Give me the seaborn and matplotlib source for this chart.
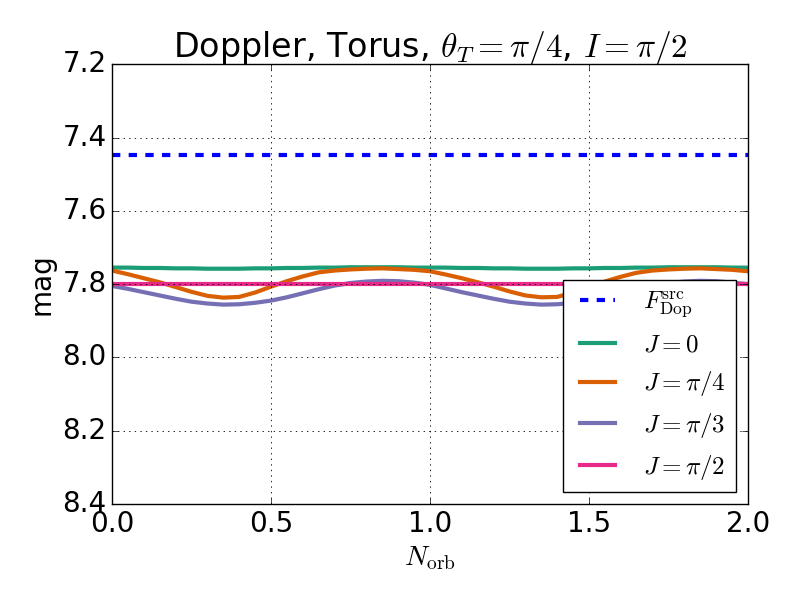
import numpy as np
import pandas as pd
import matplotlib
matplotlib.use("Agg")
import matplotlib.pyplot as plt
import seaborn as sns

# ==========================================
# DATA
# ==========================================
n_orb = [0.00, 0.05, 0.10, 0.15, 0.20, 0.25, 0.30, 0.35, 0.40, 0.45,
         0.50, 0.55, 0.60, 0.65, 0.70, 0.75, 0.80, 0.85, 0.90, 0.95,
         1.00, 1.05, 1.10, 1.15, 1.20, 1.25, 1.30, 1.35, 1.40, 1.45,
         1.50, 1.55, 1.60, 1.65, 1.70, 1.75, 1.80, 1.85, 1.90, 1.95,
         2.00]

mag_src = [7.447] * len(n_orb)

mag_j0 = [7.755, 7.755, 7.756, 7.756, 7.757, 7.757, 7.758, 7.758, 7.758, 7.757,
          7.757, 7.756, 7.756, 7.755, 7.755, 7.754, 7.754, 7.754, 7.754, 7.755,
          7.755, 7.755, 7.756, 7.756, 7.757, 7.757, 7.758, 7.758, 7.758, 7.757,
          7.757, 7.756, 7.756, 7.755, 7.755, 7.754, 7.754, 7.754, 7.754, 7.755,
          7.755]

mag_j_pi4 = [7.763, 7.773, 7.784, 7.795, 7.808, 7.821, 7.832, 7.837, 7.835, 7.823,
             7.807, 7.792, 7.779, 7.768, 7.763, 7.760, 7.758, 7.757, 7.759, 7.761,
             7.765, 7.774, 7.784, 7.795, 7.807, 7.820, 7.831, 7.836, 7.835, 7.823,
             7.808, 7.793, 7.780, 7.769, 7.763, 7.760, 7.758, 7.757, 7.759, 7.761,
             7.765]

mag_j_pi3 = [7.805, 7.813, 7.822, 7.831, 7.840, 7.848, 7.853, 7.856, 7.855, 7.851,
             7.845, 7.836, 7.825, 7.814, 7.804, 7.797, 7.793, 7.791, 7.792, 7.796,
             7.802, 7.812, 7.822, 7.831, 7.840, 7.848, 7.853, 7.856, 7.855, 7.851,
             7.845, 7.836, 7.825, 7.814, 7.804, 7.797, 7.793, 7.791, 7.792, 7.796,
             7.800]

mag_j_pi2 = [7.799] * len(n_orb)

series = [
    (mag_src, r"$F_{\rm Dop}^{\rm src}$", "blue", "--"),
    (mag_j0, r"$J=0$", "#1b9e77", "-"),
    (mag_j_pi4, r"$J=\pi/4$", "#d95f02", "-"),
    (mag_j_pi3, r"$J=\pi/3$", "#7570b3", "-"),
    (mag_j_pi2, r"$J=\pi/2$", "#e7298a", "-"),
]

# ==========================================
# STYLE
# ==========================================
plt.style.use("classic")
plt.rcParams["font.family"] = ["DejaVu Sans"]
plt.rcParams["mathtext.fontset"] = "cm"
plt.rcParams["savefig.facecolor"] = "white"
plt.rcParams["figure.facecolor"] = "white"

fig, ax = plt.subplots(figsize=(8, 6), dpi=100)
fig.subplots_adjust(left=0.14, right=0.935, top=0.893, bottom=0.16)

for vals, label, color, ls in series:
    df = pd.DataFrame({"x": n_orb, "y": vals})
    sns.lineplot(data=df, x="x", y="y", ax=ax, color=color, lw=3,
                 linestyle=ls, label=label)

ax.set_xlim(0, 2)
ax.set_ylim(8.4, 7.2)
ax.set_xticks([0.0, 0.5, 1.0, 1.5, 2.0])
ax.set_yticks([7.2, 7.4, 7.6, 7.8, 8.0, 8.2, 8.4])
ax.tick_params(labelsize=20)
ax.grid(True, color="black", linestyle=":", linewidth=0.6)

ax.set_title(r"Doppler, Torus, $\theta_T=\pi/4$, $I=\pi/2$", fontsize=24)
ax.set_xlabel(r"$N_{\rm orb}$", fontsize=20)
ax.set_ylabel("mag", fontsize=20)

ax.legend(loc="lower right", fontsize=18)

plt.savefig("out.png", dpi=100)
plt.close(fig)
